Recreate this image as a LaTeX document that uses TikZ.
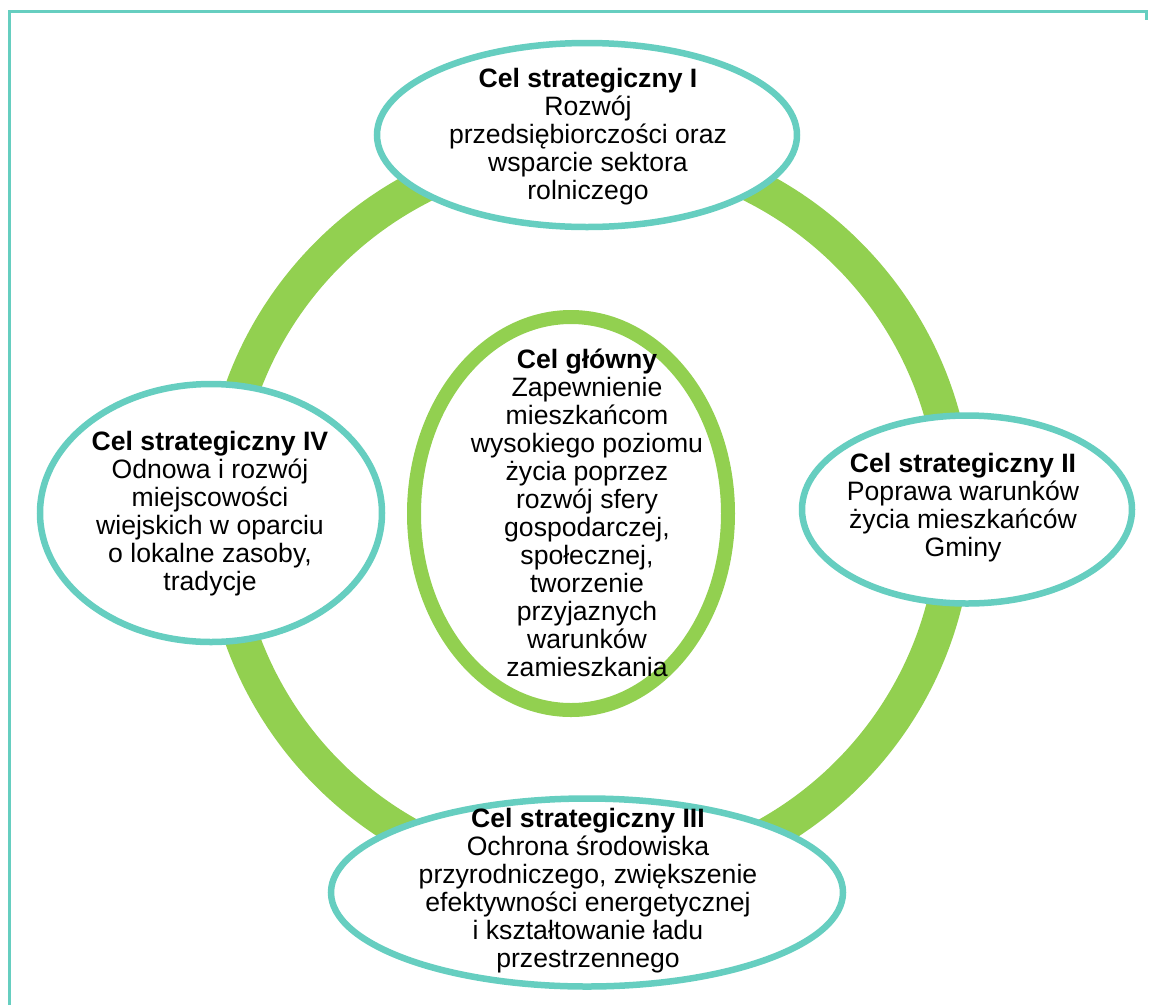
\documentclass[tikz,border=0pt]{standalone}
\usepackage{fontspec}
\setmainfont{Liberation Sans}
\usetikzlibrary{shapes.geometric}
\definecolor{ringgreen}{RGB}{146,208,80}
\definecolor{tealline}{RGB}{102,206,192}
\begin{document}
\begin{tikzpicture}[x=1pt,y=-1pt,
  goal/.style={ellipse, draw=tealline, line width=6.5pt, fill=white, inner sep=0pt},
  txt/.style={align=center, font=\fontsize{26.6}{28}\selectfont, inner sep=0pt}]
\useasboundingbox (0,0) rectangle (1149,1005);
\draw[tealline, line width=3pt] (9.5,1005) -- (9.5,11.5) -- (1146,11.5) -- (1146,20);
\node[circle, draw=ringgreen, line width=35pt, minimum size=735pt, inner sep=0pt] (ring) at (588,514) {};
% ellipses
\node[goal, minimum width=420pt, minimum height=184pt] (e1) at (587,135) {};
\node[goal, minimum width=330pt, minimum height=188pt] (e2) at (967,509.5) {};
\node[goal, minimum width=512pt, minimum height=188pt] (e3) at (587,892.5) {};
\node[goal, minimum width=342pt, minimum height=258pt] (e4) at (211,513) {};
\node[ellipse, draw=ringgreen, line width=14pt, fill=white, inner sep=0pt,
      minimum width=314pt, minimum height=393pt] (ec) at (571,513.5) {};
% texts
\node[txt] (t1) at (588,137) {\textbf{Cel strategiczny I}\\Rozwój\\przedsiębiorczości oraz\\wsparcie sektora\\rolniczego};
\node[txt] (t2) at (963,508) {\textbf{Cel strategiczny II}\\Poprawa warunków\\życia mieszkańców\\Gminy};
\node[txt] (t3) at (588,891) {\textbf{Cel strategiczny III}\\Ochrona środowiska\\przyrodniczego, zwiększenie\\efektywności energetycznej\\i kształtowanie ładu\\przestrzennego};
\node[txt] (t4) at (210,514) {\textbf{Cel strategiczny IV}\\Odnowa i rozwój\\miejscowości\\wiejskich w oparciu\\o lokalne zasoby,\\tradycje};
\node[txt] (tc) at (587,513) {\textbf{Cel główny}\\Zapewnienie\\mieszkańcom\\wysokiego poziomu\\życia poprzez\\rozwój sfery\\gospodarczej,\\społecznej,\\tworzenie\\przyjaznych\\warunków\\zamieszkania};
\end{tikzpicture}
\end{document}
